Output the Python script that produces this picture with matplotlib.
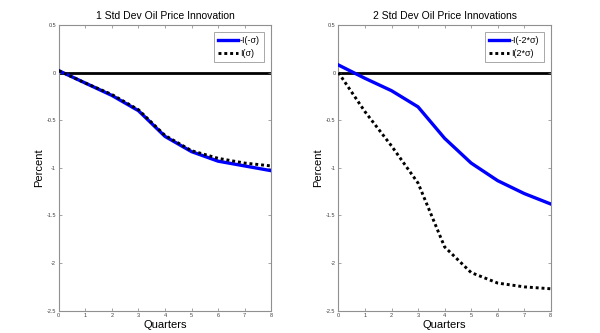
import matplotlib
matplotlib.use('Agg')
import matplotlib.pyplot as plt

plt.rcParams['font.family'] = ['Liberation Sans', 'DejaVu Sans']

quarters = [0, 1, 2, 3, 4, 5, 6, 7, 8]

# 1 std dev shock
neg_one_sd = [0.02, -0.11, -0.24, -0.40, -0.67, -0.83, -0.93, -0.98, -1.03]
pos_one_sd = [0.02, -0.11, -0.23, -0.39, -0.66, -0.82, -0.90, -0.95, -0.98]

# 2 std dev shock
neg_two_sd = [0.08, -0.06, -0.19, -0.36, -0.69, -0.95, -1.135, -1.27, -1.38]
pos_two_sd = [0.00, -0.41, -0.77, -1.16, -1.83, -2.10, -2.21, -2.25, -2.27]

titles = ['1 Std Dev Oil Price Innovation', '2 Std Dev Oil Price Innovations']
labels = [('-I(-σ)', 'I(σ)'),
          ('-I(-2*σ)', 'I(2*σ)')]
series = [(neg_one_sd, pos_one_sd), (neg_two_sd, pos_two_sd)]
yticks = [0.5, 0, -0.5, -1, -1.5, -2, -2.5]

fig = plt.figure(figsize=(6, 3.33), dpi=100)
positions = [[0.098, 0.067, 0.354, 0.858], [0.564, 0.067, 0.354, 0.858]]

for pos, title, (lab_a, lab_b), (sa, sb) in zip(positions, titles, labels, series):
    ax = fig.add_axes(pos)
    ax.axhline(0, color='black', linewidth=2, zorder=1)
    ax.plot(quarters, sa, color='#0000ff', linewidth=2.4, label=lab_a, zorder=3)
    ax.plot(quarters, sb, color='black', linewidth=2.1, linestyle=(0, (1, 1)),
            label=lab_b, zorder=4)
    ax.set_xlim(0, 8)
    ax.set_ylim(-2.5, 0.5)
    ax.set_xticks(quarters)
    ax.set_yticks(yticks)
    ax.set_yticklabels(['0.5', '0', '-0.5', '-1', '-1.5', '-2', '-2.5'])
    ax.tick_params(direction='in', length=2, width=0.5, labelsize=4,
                   top=True, right=True, colors='#808080', labelcolor='#404040', pad=2)
    for sp in ax.spines.values():
        sp.set_color('#909090')
        sp.set_linewidth(0.8)
    ax.set_title(title, fontsize=7.5, pad=4)
    ax.set_xlabel('Quarters', fontsize=8, labelpad=1)
    ax.set_ylabel('Percent', fontsize=8, labelpad=2)
    leg = ax.legend(loc='upper right', fontsize=6.5, frameon=True, fancybox=False,
                    handlelength=2.2, borderpad=0.45, labelspacing=0.45, handletextpad=0.2,
                    borderaxespad=0.8)
    leg.get_frame().set_edgecolor('#808080')
    leg.get_frame().set_linewidth(0.6)

fig.savefig('out.png', dpi=100)
